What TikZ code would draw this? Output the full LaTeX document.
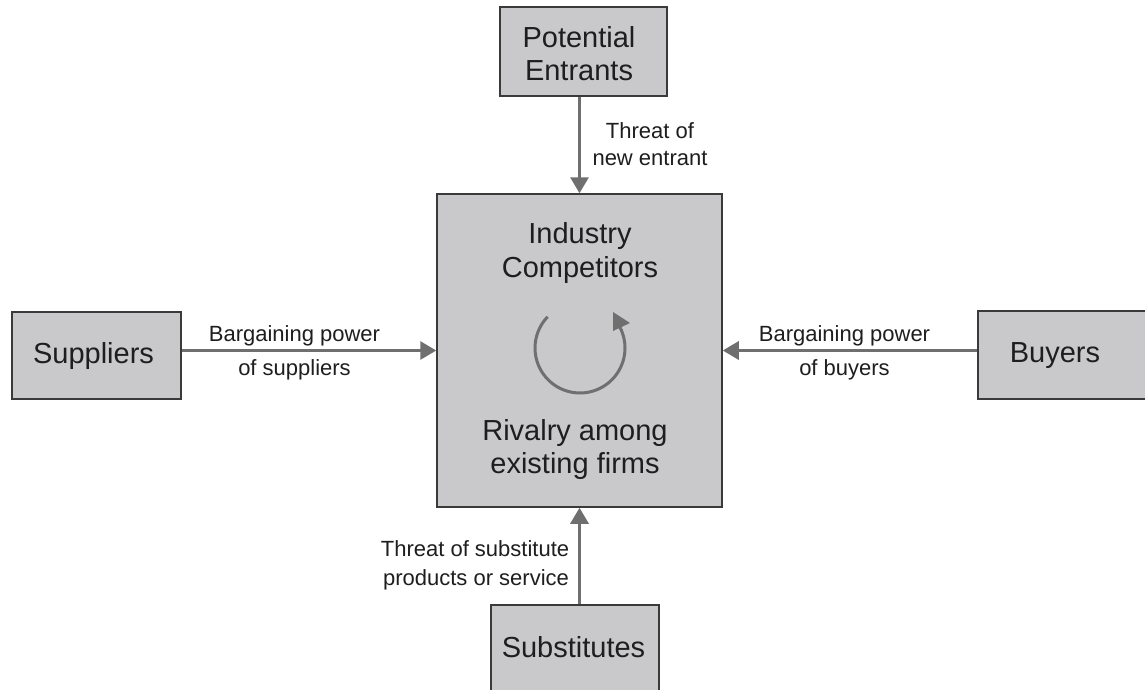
\documentclass[tikz,border=0pt]{standalone}
\usepackage{fontspec}
\setmainfont{Liberation Sans}
\usetikzlibrary{arrows.meta}
\definecolor{boxfill}{HTML}{C9C9CC}
\definecolor{boxline}{HTML}{3A3A3A}
\definecolor{arrowgray}{HTML}{6F6F6F}
\definecolor{txt}{HTML}{1E1E1E}
\tikzset{
  forcebox/.style={draw=boxline, fill=boxfill, line width=1.5pt, inner sep=0pt},
  boxtext/.style={anchor=base, text=txt, inner sep=0pt, font=\fontsize{29}{35}\selectfont},
  labeltext/.style={anchor=base, text=txt, inner sep=0pt, font=\fontsize{22}{27}\selectfont},
  force/.style={draw=arrowgray, line width=3pt, -{Triangle[length=16pt,width=18pt]}},
}
\begin{document}
\begin{tikzpicture}[x=1pt,y=-1pt]
\path[use as bounding box, fill=white] (0,0) rectangle (1145,689);
% boxes
\node[forcebox, minimum width=167pt, minimum height=89pt] (pe) at (583.5,51.5) {};
\node[forcebox, minimum width=285pt, minimum height=313pt] (ic) at (579.5,350.5) {};
\node[forcebox, minimum width=169pt, minimum height=87pt] (sup) at (96.5,355.5) {};
\node[forcebox, minimum width=169pt, minimum height=88pt] (buy) at (1062.5,355) {};
\node[forcebox, minimum width=168pt, minimum height=89pt] (sub) at (575,649.5) {};
% box texts
\node[boxtext] (pe1) at (579,47) {Potential};
\node[boxtext] (pe2) at (579,80) {Entrants};
\node[boxtext] (ic1) at (580,243) {Industry};
\node[boxtext] (ic2) at (580,277) {Competitors};
\node[boxtext] (ic3) at (575,440) {Rivalry among};
\node[boxtext] (ic4) at (575,473) {existing firms};
\node[boxtext] (sup1) at (93.5,363) {Suppliers};
\node[boxtext] (buy1) at (1055,362) {Buyers};
\node[boxtext] (sub1) at (573.5,657) {Substitutes};
% connectors
\draw[force] (pe.south -| ic.north) -- (ic.north);
\draw[force] (sub.north -| ic.south) -- (ic.south);
\draw[force] (sup.east |- ic.west) -- (ic.west);
\draw[force] (buy.west |- ic.east) -- (ic.east);
% labels
\node[labeltext] (l1a) at (650,138) {Threat of};
\node[labeltext] (l1b) at (650,165) {new entrant};
\node[labeltext] (l2a) at (294.5,341) {Bargaining power};
\node[labeltext] (l2b) at (294.5,375) {of suppliers};
\node[labeltext] (l3a) at (844.5,341) {Bargaining power};
\node[labeltext] (l3b) at (844.5,375) {of buyers};
\node[labeltext] (l4a) at (475,556) {Threat of substitute};
\node[labeltext] (l4b) at (476,585) {products or service};
% rivalry circular arrow
\draw[arrowgray, line width=3pt] ([shift={(224:45)}]580,348) arc[start angle=224, end angle=-28, radius=45];
\fill[arrowgray] (613,312) -- (630,323) -- (613,331) -- cycle;
\end{tikzpicture}
\end{document}
